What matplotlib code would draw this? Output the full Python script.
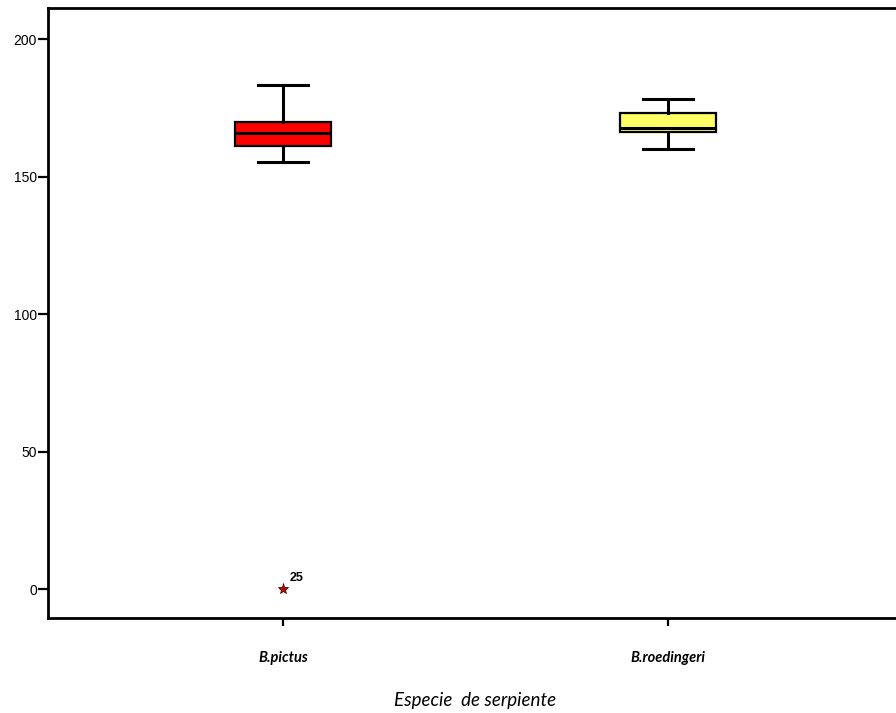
import numpy as np
import matplotlib.pyplot as plt

# datos (longitud por especie)
especies = ['B.pictus', 'B.roedingeri']
bigote_inf = [155.3, 160.0]
q1 = [161.3, 166.2]
mediana = [165.9, 167.6]
q3 = [169.8, 173.1]
bigote_sup = [183.2, 178.2]
atipicos = [[0.0], []]
etiqueta_atipico = ['25']
colores = ['#ff0000', '#ffff66']

fig = plt.figure(figsize=(8.96, 7.13), dpi=100)
ax = fig.add_axes([48/896, 1-618/713, 855/896, 610/713])

stats = []
for i in range(len(especies)):
    stats.append({'whislo': bigote_inf[i], 'q1': q1[i], 'med': mediana[i],
                  'q3': q3[i], 'whishi': bigote_sup[i], 'fliers': atipicos[i],
                  'label': especies[i]})

bp = ax.bxp(stats, positions=[1, 2], widths=0.25, patch_artist=True,
            showfliers=True,
            boxprops=dict(linewidth=1.6, edgecolor='black'),
            medianprops=dict(linewidth=2.2, color='black'),
            whiskerprops=dict(linewidth=2.2, color='black'),
            capprops=dict(linewidth=2.2, color='black'),
            capwidths=0.13,
            flierprops=dict(marker='*', markersize=8, markerfacecolor='#a01010',
                            markeredgecolor='#600000', markeredgewidth=0.6))
for caja, c in zip(bp['boxes'], colores):
    caja.set_facecolor(c)

# etiqueta del caso atipico
ax.annotate(etiqueta_atipico[0], xy=(1, atipicos[0][0]), xytext=(5, 6),
            textcoords='offset points', fontsize=9, fontweight='bold',
            family=['Liberation Sans', 'DejaVu Sans'])

ax.set_xlim(0.39, 2.61)
ax.set_ylim(-10.5, 211.3)
ax.set_yticks([0, 50, 100, 150, 200])
ax.set_xticks([1, 2])
ax.set_xticklabels(especies, fontstyle='italic', fontweight='bold', fontsize=10.5,
                   family=['Lato', 'DejaVu Sans'])
for t in ax.get_yticklabels():
    t.set_fontsize(10)
    t.set_family(['Liberation Sans', 'DejaVu Sans'])

ax.tick_params(axis='y', length=7, width=1.6, pad=1)
ax.tick_params(axis='x', length=6, width=1.6, pad=18)
for s in ['left', 'bottom', 'top']:
    ax.spines[s].set_linewidth(2)
ax.spines['right'].set_visible(False)

ax.set_xlabel('Especie  de serpiente', fontstyle='italic', fontsize=13.5,
              family=['Lato', 'DejaVu Sans'], labelpad=19)

plt.savefig('out.png', dpi=100)
